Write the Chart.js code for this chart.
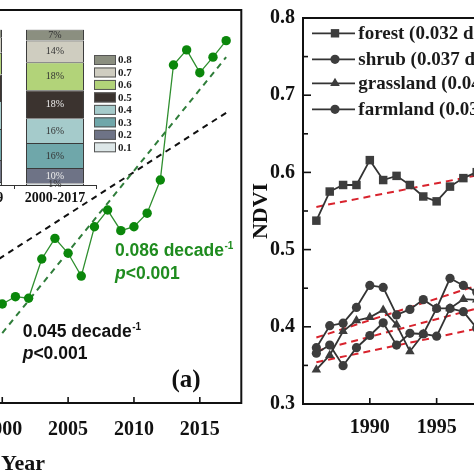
<!DOCTYPE html>
<html>
<head>
<meta charset="utf-8">
<script src="https://cdn.jsdelivr.net/npm/chart.js@4"></script>
<style>
  html, body { margin: 0; padding: 0; background: #fff; overflow: hidden; }
  #wrap { position: relative; width: 474px; height: 474px; overflow: hidden; background: #fff; }
  canvas { position: absolute; top: 0; }
</style>
</head>
<body>
<div id="wrap">
  <canvas id="left-chart" width="446" height="474" style="left:-200px"></canvas>
  <canvas id="inset-chart" width="206" height="215" style="left:-68px"></canvas>
  <canvas id="right-chart" width="510" height="474" style="left:240px"></canvas>
</div>
<script>
// ---- panel (a) ----
var years = [2000, 2001, 2002, 2003, 2004, 2005, 2006, 2007, 2008, 2009, 2010, 2011, 2012, 2013, 2014, 2015, 2016, 2017];
var greenValues = [0.3504, 0.3541, 0.3533, 0.3733, 0.3838, 0.3762, 0.3646, 0.3897, 0.3982, 0.3877, 0.3897, 0.3966, 0.4135, 0.4720, 0.4797, 0.4681, 0.4760, 0.4844];
var greenTrendYears = [2000, 2017];
var greenTrendValues = [0.3356, 0.4760];
var blackTrendYears = [1985, 2017];
var blackTrendValues = [0.3098, 0.4477];
var yearTicks = [2000, 2005, 2010, 2015];

// ---- inset stacked bar ----
var periods = ["1982-1999", "2000-2017"];
var classLabels = ["0.1", "0.2", "0.3", "0.4", "0.5", "0.6", "0.7", "0.8"];
var sharesEarly = [2, 14, 20, 18, 17, 14, 10, 5];
var sharesLate = [1, 10, 16, 16, 18, 18, 14, 7];
var classColors = ["#dde7e8", "#6e7386", "#6fa7aa", "#a5cbcb", "#3b332f", "#b2d379", "#cfcdc0", "#8b8f80"];

// ---- panel (b) ----
var bYears = [1986, 1987, 1988, 1989, 1990, 1991, 1992, 1993, 1994, 1995, 1996, 1997, 1998];
var forest = [0.5375, 0.5752, 0.5837, 0.5837, 0.6159, 0.5901, 0.5955, 0.5837, 0.5688, 0.5625, 0.5816, 0.5926, 0.6003];
var shrub = [0.3729, 0.4014, 0.4047, 0.4251, 0.4536, 0.4510, 0.4154, 0.4225, 0.4352, 0.4238, 0.4628, 0.4536, 0.4450];
var grassland = [0.3445, 0.3632, 0.3941, 0.4081, 0.4123, 0.4218, 0.4027, 0.3681, 0.3907, 0.4238, 0.4238, 0.4358, 0.4350];
var farmland = [0.3658, 0.3763, 0.3496, 0.3729, 0.3887, 0.4052, 0.3763, 0.3916, 0.3907, 0.3878, 0.4238, 0.4196, 0.3983];
var trendYears = [1986, 2017];
var forestTrend = [0.5553, 0.6607];
var shrubTrend = [0.3861, 0.5597];
var grassTrend = [0.3687, 0.5107];
var farmTrend = [0.3541, 0.4663];
var bYearTicks = [1990, 1995, 2000, 2005, 2010, 2015];
var ndviTicks = [0.3, 0.4, 0.5, 0.6, 0.7, 0.8];
var ndviMinor = [0.35, 0.45, 0.55, 0.65, 0.75];
var legendNames = ["forest (0.032 decade", "shrub (0.037 decade", "grassland (0.041 decade", "farmland (0.033 decade"];

var SERIF = "'Liberation Serif', 'Times New Roman', serif";
var SANS = "'Liberation Sans', Arial, sans-serif";

function pts(xs, ys) {
  return xs.map(function (x, i) { return { x: x, y: ys[i] }; });
}

function textWithSup(ctx, x, y, main, sup, size) {
  ctx.font = "bold " + size + "px " + SANS;
  ctx.fillText(main, x, y);
  var w = ctx.measureText(main).width;
  ctx.font = "bold " + Math.round(size * 0.58) + "px " + SANS;
  ctx.fillText(sup, x + w + 0.5, y - size * 0.38);
}

function pText(ctx, x, y, size) {
  ctx.font = "italic bold " + size + "px " + SANS;
  ctx.fillText("p", x, y);
  var w = ctx.measureText("p").width;
  ctx.font = "bold " + size + "px " + SANS;
  ctx.fillText("<0.001", x + w, y);
}

// frame and inward tick marks
var framePlugin = {
  id: "frame",
  afterDraw: function (chart, args, opts) {
    var ctx = chart.ctx, a = chart.chartArea;
    ctx.save();
    ctx.strokeStyle = "#111";
    ctx.lineWidth = 2;
    ctx.strokeRect(a.left, a.top, a.right - a.left, a.bottom - a.top);
    ctx.lineWidth = 1.6;
    var xs = chart.scales.x;
    (opts.xTicks || []).forEach(function (v) {
      var px = xs.getPixelForValue(v);
      ctx.beginPath(); ctx.moveTo(px, a.bottom); ctx.lineTo(px, a.bottom - 6); ctx.stroke();
    });
    var ys = chart.scales.y;
    (opts.yTicks || []).forEach(function (v) {
      var py = ys.getPixelForValue(v);
      ctx.beginPath(); ctx.moveTo(a.left, py); ctx.lineTo(a.left + 8, py); ctx.stroke();
    });
    (opts.yMinor || []).forEach(function (v) {
      var py = ys.getPixelForValue(v);
      ctx.beginPath(); ctx.moveTo(a.left, py); ctx.lineTo(a.left + 5, py); ctx.stroke();
    });
    ctx.restore();
  }
};

var leftText = {
  id: "leftText",
  afterDraw: function (chart) {
    var ctx = chart.ctx;
    ctx.save();
    ctx.textBaseline = "alphabetic";
    ctx.textAlign = "left";
    ctx.fillStyle = "#1f8c1f";
    textWithSup(ctx, 315, 256, "0.086 decade", "-1", 17.5);
    pText(ctx, 315, 278.5, 17.5);
    ctx.fillStyle = "#111";
    textWithSup(ctx, 222.7, 336.7, "0.045 decade", "-1", 17.5);
    pText(ctx, 222.7, 359, 17.5);
    ctx.font = "bold 25px " + SERIF;
    ctx.fillText("(a)", 371.5, 387);
    ctx.restore();
  }
};

new Chart(document.getElementById("left-chart"), {
  type: "line",
  data: {
    datasets: [
      {
        data: pts(years, greenValues),
        borderColor: "#2f8f2f", borderWidth: 1.3,
        pointRadius: 4.7, pointBackgroundColor: "#0b870b", pointBorderWidth: 0
      },
      {
        data: pts(greenTrendYears, greenTrendValues),
        borderColor: "#2f7d3a", borderWidth: 2, borderDash: [6, 5], pointRadius: 0
      },
      {
        data: pts(blackTrendYears, blackTrendValues),
        borderColor: "#111", borderWidth: 2, borderDash: [6, 5], pointRadius: 0
      }
    ]
  },
  options: {
    responsive: false, animation: false, devicePixelRatio: 1,
    layout: { padding: { top: 10, right: 4, left: 0, bottom: 0 } },
    plugins: { legend: { display: false }, tooltip: { enabled: false }, frame: { xTicks: yearTicks } },
    scales: {
      x: {
        type: "linear", min: 1985, max: 2018.15,
        afterBuildTicks: function (s) { s.ticks = yearTicks.map(function (v) { return { value: v }; }); },
        afterFit: function (s) { s.height = 71; },
        grid: { display: false, drawTicks: false },
        border: { display: false },
        ticks: {
          font: { family: SERIF, weight: "bold", size: 20, lineHeight: 1 },
          color: "#111", padding: 17, maxRotation: 0, autoSkip: false,
          callback: function (v) { return String(v); }
        },
        title: {
          display: true, text: "Year", color: "#111",
          font: { family: SERIF, weight: "bold", size: 22 },
          padding: { top: 0, bottom: -4 }
        }
      },
      y: { display: false, min: 0.3, max: 0.5 }
    }
  },
  plugins: [framePlugin, leftText]
});

// inset: percentage labels and class legend
var insetText = {
  id: "insetText",
  afterDraw: function (chart) {
    var ctx = chart.ctx;
    ctx.save();
    ctx.textAlign = "center";
    ctx.textBaseline = "middle";
    ctx.font = "10px " + SERIF;
    chart.data.datasets.forEach(function (ds, i) {
      var meta = chart.getDatasetMeta(i);
      meta.data.forEach(function (bar, j) {
        ctx.fillStyle = (i === 1 || i === 4) ? "#eeeeee" : "#333";
        ctx.fillText(ds.data[j] + "%", bar.x, (bar.y + bar.base) / 2 + 0.5);
      });
    });
    ctx.textAlign = "left";
    ctx.font = "bold 11px " + SERIF;
    var lx = 94 + 68;
    for (var k = 0; k < classLabels.length; k++) {
      var idx = classLabels.length - 1 - k;
      var cy = 60 + k * 12.47;
      ctx.fillStyle = classColors[idx];
      ctx.fillRect(lx, cy - 5, 22, 10);
      ctx.strokeStyle = "#555";
      ctx.lineWidth = 1;
      ctx.strokeRect(lx + 0.5, cy - 4.5, 21, 9);
      ctx.fillStyle = "#222";
      ctx.fillText(classLabels[idx], lx + 24, cy + 0.5);
    }
    ctx.restore();
  }
};

new Chart(document.getElementById("inset-chart"), {
  type: "bar",
  data: {
    labels: periods,
    datasets: classLabels.map(function (c, i) {
      return {
        label: c, data: [sharesEarly[i], sharesLate[i]],
        backgroundColor: classColors[i], borderColor: "#3a3a3a", borderWidth: 1,
        barPercentage: 0.707, categoryPercentage: 1
      };
    })
  },
  options: {
    responsive: false, animation: false, devicePixelRatio: 1,
    layout: { padding: { top: 29.5, right: 42, left: 0, bottom: 0 } },
    plugins: { legend: { display: false }, tooltip: { enabled: false } },
    scales: {
      x: {
        stacked: true,
        grid: { display: true, drawOnChartArea: false, drawTicks: true, tickLength: 4, offset: true, color: "#333" },
        border: { display: true, color: "#333", width: 1 },
        ticks: { font: { family: SERIF, weight: "bold", size: 14 }, color: "#111", padding: 1, maxRotation: 0, autoSkip: false },
        afterFit: function (s) { s.height = 30; }
      },
      y: { stacked: true, display: false, min: 0, max: 100 }
    }
  },
  plugins: [insetText]
});

// panel (b) legend: line with marker, drawn inside the plot
function marker(ctx, style, x, y) {
  ctx.beginPath();
  if (style === "rect") {
    ctx.rect(x - 4.2, y - 4.2, 8.4, 8.4);
  } else if (style === "triangle") {
    ctx.moveTo(x, y - 5.5); ctx.lineTo(x + 4.8, y + 2.8); ctx.lineTo(x - 4.8, y + 2.8); ctx.closePath();
  } else {
    ctx.arc(x, y, 4.6, 0, Math.PI * 2);
  }
  ctx.fill();
}

var bLegend = {
  id: "bLegend",
  afterDraw: function (chart) {
    var ctx = chart.ctx;
    var styles = ["rect", "circle", "triangle", "circle"];
    var rows = [33.3, 59.3, 83.3, 109.3];
    ctx.save();
    for (var i = 0; i < 4; i++) {
      ctx.strokeStyle = "#333"; ctx.lineWidth = 1.8;
      ctx.beginPath(); ctx.moveTo(72, rows[i]); ctx.lineTo(115, rows[i]); ctx.stroke();
      ctx.fillStyle = "#3d3d3d";
      marker(ctx, styles[i], 95, rows[i]);
      ctx.fillStyle = "#1a1a1a";
      ctx.textBaseline = "alphabetic";
      ctx.font = "bold 19px " + SERIF;
      ctx.fillText(legendNames[i], 118.3, rows[i] + 6);
      var w = ctx.measureText(legendNames[i]).width;
      ctx.font = "bold 11px " + SERIF;
      ctx.fillText("-1", 118.3 + w + 1, rows[i] - 2);
      var w2 = ctx.measureText("-1").width;
      ctx.font = "bold 19px " + SERIF;
      ctx.fillText(")", 118.3 + w + w2 + 2, rows[i] + 6);
    }
    ctx.restore();
  }
};

function seriesDs(values, style, radius) {
  return {
    data: pts(bYears, values),
    borderColor: "#333", borderWidth: 1.8,
    pointStyle: style, pointRadius: radius,
    pointBackgroundColor: "#3d3d3d", pointBorderColor: "#3d3d3d", pointBorderWidth: 0
  };
}
function trendDs(values) {
  return {
    data: pts(trendYears, values),
    borderColor: "#d8232d", borderWidth: 2, borderDash: [7, 5], pointRadius: 0
  };
}

new Chart(document.getElementById("right-chart"), {
  type: "line",
  data: {
    datasets: [
      seriesDs(forest, "rect", 6),
      seriesDs(shrub, "circle", 4.6),
      seriesDs(grassland, "triangle", 5.5),
      seriesDs(farmland, "circle", 4.6),
      trendDs(forestTrend),
      trendDs(shrubTrend),
      trendDs(grassTrend),
      trendDs(farmTrend)
    ]
  },
  options: {
    responsive: false, animation: false, devicePixelRatio: 1,
    layout: { padding: { top: 11, right: 0, left: 0, bottom: 0 } },
    plugins: {
      legend: { display: false }, tooltip: { enabled: false },
      frame: { xTicks: bYearTicks, yTicks: ndviTicks, yMinor: ndviMinor }
    },
    scales: {
      x: {
        type: "linear", min: 1985, max: 2018,
        afterBuildTicks: function (s) { s.ticks = bYearTicks.map(function (v) { return { value: v }; }); },
        afterFit: function (s) { s.height = 70; },
        grid: { display: false, drawTicks: false },
        border: { display: false },
        ticks: {
          font: { family: SERIF, weight: "bold", size: 20, lineHeight: 1 },
          color: "#111", padding: 14, maxRotation: 0, autoSkip: false,
          callback: function (v) { return String(v); }
        }
      },
      y: {
        min: 0.3, max: 0.8,
        afterBuildTicks: function (s) { s.ticks = ndviTicks.map(function (v) { return { value: v }; }); },
        afterFit: function (s) { s.width = 63; },
        grid: { display: false, drawTicks: false },
        border: { display: false },
        ticks: {
          font: { family: SERIF, weight: "bold", size: 20, lineHeight: 1 },
          color: "#111", padding: 8,
          callback: function (v) { return Number(v).toFixed(1); }
        },
        title: {
          display: true, text: "NDVI", color: "#111",
          font: { family: SERIF, weight: "bold", size: 22 },
          padding: { top: 8, bottom: 0 }
        }
      }
    }
  },
  plugins: [framePlugin, bLegend]
});
</script>
</body>
</html>
